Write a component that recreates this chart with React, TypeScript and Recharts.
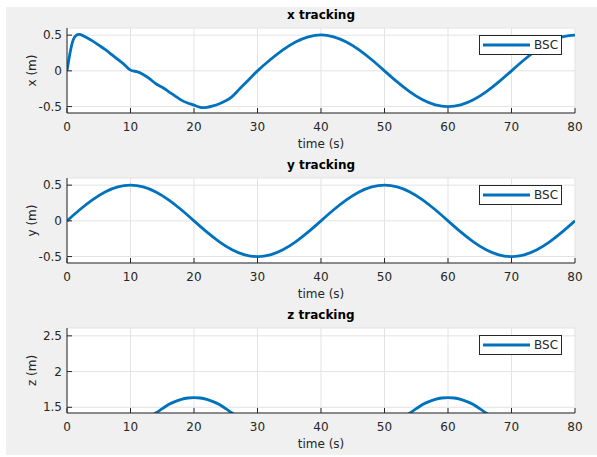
import React from "react";
import { LineChart, Line, XAxis, YAxis, CartesianGrid, Legend } from "recharts";

const FONT = "'DejaVu Sans', sans-serif";
const INK = "#262626";
const BLUE = "#0072BD";

const timeTicks = [0, 10, 20, 30, 40, 50, 60, 70, 80];
const posTicks = [-0.5, 0, 0.5];
const zTicks = [1.5, 2, 2.5];

// x tracking
const xTime = [
  0, 0.5, 1, 1.5, 2, 3, 4, 5, 6, 7, 8, 9, 10, 11, 12, 13, 14, 15, 16, 17, 18, 19, 20,
  21, 22, 23, 24, 25, 26, 27, 28, 29, 30, 32, 34, 36, 38, 40, 42, 44, 46, 48, 50, 52,
  54, 56, 58, 60, 62, 64, 66, 68, 70, 72, 74, 76, 78, 80,
];
const xPos = [
  0, 0.26, 0.44, 0.5, 0.51, 0.47, 0.42, 0.36, 0.3, 0.23, 0.16, 0.09, 0.01, -0.01,
  -0.05, -0.11, -0.18, -0.23, -0.29, -0.35, -0.41, -0.45, -0.48, -0.51, -0.51, -0.49,
  -0.46, -0.42, -0.36, -0.27, -0.18, -0.09, 0, 0.155, 0.294, 0.405, 0.476, 0.505, 0.476,
  0.405, 0.294, 0.155, 0, -0.155, -0.294, -0.405, -0.476, -0.5, -0.476, -0.405, -0.294,
  -0.155, 0, 0.155, 0.294, 0.405, 0.476, 0.5,
];

// y tracking
const yTime = [
  0, 2, 4, 6, 8, 10, 12, 14, 16, 18, 20, 22, 24, 26, 28, 30, 32, 34, 36, 38, 40, 42,
  44, 46, 48, 50, 52, 54, 56, 58, 60, 62, 64, 66, 68, 70, 72, 74, 76, 78, 80,
];
const yPos = [
  0, 0.155, 0.294, 0.405, 0.476, 0.5, 0.476, 0.405, 0.294, 0.155, 0, -0.155, -0.294,
  -0.405, -0.476, -0.5, -0.476, -0.405, -0.294, -0.155, 0, 0.155, 0.294, 0.405, 0.476,
  0.5, 0.476, 0.405, 0.294, 0.155, 0, -0.155, -0.294, -0.405, -0.476, -0.5, -0.476,
  -0.405, -0.294, -0.155, 0,
];

// z tracking (mostly below the visible range)
const zTime = [
  12, 13, 14, 15, 16, 17, 18, 19, 20, 21, 22, 23, 24, 25, 26, 27, 28, 40, 52, 53, 54,
  55, 56, 57, 58, 59, 60, 61, 62, 63, 64, 65, 66, 67, 68,
];
const zPos = [
  1.27, 1.35, 1.42, 1.48, 1.54, 1.58, 1.61, 1.63, 1.635, 1.63, 1.61, 1.58, 1.54, 1.48,
  1.42, 1.35, 1.27, null, 1.27, 1.35, 1.42, 1.48, 1.54, 1.58, 1.61, 1.63, 1.635, 1.63,
  1.61, 1.58, 1.54, 1.48, 1.42, 1.35, 1.27,
];

const zip = (t: number[], v: (number | null)[]) =>
  t.map((time, i) => ({ time, value: v[i] }));

const BottomTick = ({ x, y, payload }: any) => (
  <g>
    <line x1={x} x2={x} y1={y} y2={y - 5} stroke={INK} />
    <text x={x} y={y + 18} textAnchor="middle" fontSize={12} fontFamily={FONT} fill={INK}>
      {payload.value}
    </text>
  </g>
);

const TopTick = ({ x, y }: any) => (
  <line x1={x} x2={x} y1={y} y2={y + 5} stroke={INK} />
);

const LeftTick = ({ x, y, payload }: any) => (
  <g>
    <line x1={x} x2={x + 5} y1={y} y2={y} stroke={INK} />
    <text x={x - 5} y={y + 4} textAnchor="end" fontSize={12} fontFamily={FONT} fill={INK}>
      {payload.value}
    </text>
  </g>
);

const RightTick = ({ x, y }: any) => (
  <line x1={x} x2={x - 5} y1={y} y2={y} stroke={INK} />
);

const LegendBox = () => (
  <div
    style={{
      width: 83,
      height: 20,
      boxSizing: "border-box",
      border: `1px solid ${INK}`,
      background: "#fff",
      display: "flex",
      alignItems: "center",
      fontFamily: FONT,
      fontSize: 12,
      color: INK,
    }}
  >
    <svg width={52} height={6} style={{ display: "block" }}>
      <line x1={3} x2={50} y1={3} y2={3} stroke={BLUE} strokeWidth={2.8} />
    </svg>
    <span style={{ marginLeft: 2 }}>BSC</span>
  </div>
);

interface SubplotProps {
  top: number;
  title: string;
  ylabel: string;
  data: { time: number; value: number | null }[];
  domain: [number, number];
  yTicks: number[];
}

function Subplot({ top, title, ylabel, data, domain, yTicks }: SubplotProps) {
  return (
    <div style={{ position: "absolute", left: 0, top, width: 597, height: 150 }}>
      <div
        style={{
          position: "absolute",
          left: 67,
          top: 8,
          width: 508,
          textAlign: "center",
          fontFamily: FONT,
          fontSize: 12,
          lineHeight: "14px",
          fontWeight: "bold",
          color: "#000",
        }}
      >
        {title}
      </div>
      <LineChart
        width={597}
        height={150}
        data={data}
        margin={{ top: 28, right: 22, bottom: 0, left: 0 }}
      >
        <CartesianGrid stroke="#e3e3e3" fill="#fff" />
        <XAxis
          dataKey="time"
          type="number"
          domain={[0, 80]}
          ticks={timeTicks}
          interval={0}
          allowDataOverflow
          height={37}
          tickSize={0}
          tickMargin={0}
          tickLine={false}
          axisLine={{ stroke: INK }}
          tick={<BottomTick />}
          label={{
            content: ({ viewBox }: any) => (
              <text
                x={viewBox.x + viewBox.width / 2}
                y={viewBox.y + 35}
                textAnchor="middle"
                fontSize={12}
                fontFamily={FONT}
                fill={INK}
              >
                time (s)
              </text>
            ),
          }}
        />
        <XAxis
          xAxisId="top"
          orientation="top"
          type="number"
          domain={[0, 80]}
          ticks={timeTicks}
          interval={0}
          allowDataOverflow
          height={0}
          tickSize={0}
          tickMargin={0}
          tickLine={false}
          axisLine={{ stroke: INK }}
          tick={<TopTick />}
        />
        <YAxis
          type="number"
          domain={domain}
          ticks={yTicks}
          interval={0}
          allowDataOverflow
          width={67}
          tickSize={0}
          tickMargin={0}
          tickLine={false}
          axisLine={{ stroke: INK }}
          tick={<LeftTick />}
          label={{
            content: ({ viewBox }: any) => {
              const cx = viewBox.x + 32;
              const cy = viewBox.y + viewBox.height / 2;
              return (
                <text
                  x={cx}
                  y={cy}
                  transform={`rotate(-90 ${cx} ${cy})`}
                  textAnchor="middle"
                  dominantBaseline="central"
                  fontSize={12}
                  fontFamily={FONT}
                  fill={INK}
                >
                  {ylabel}
                </text>
              );
            },
          }}
        />
        <YAxis
          yAxisId="right"
          orientation="right"
          type="number"
          domain={domain}
          ticks={yTicks}
          interval={0}
          allowDataOverflow
          width={0}
          tickSize={0}
          tickMargin={0}
          tickLine={false}
          axisLine={{ stroke: INK }}
          tick={<RightTick />}
        />
        <Legend
          layout="horizontal"
          verticalAlign="middle"
          align="center"
          wrapperStyle={{ left: 479, top: 35, width: "auto", height: "auto" }}
          content={<LegendBox />}
        />
        <Line
          type="natural"
          dataKey="value"
          stroke={BLUE}
          strokeWidth={2.8}
          dot={false}
          name="BSC"
          isAnimationActive={false}
        />
      </LineChart>
    </div>
  );
}

export default function App() {
  return (
    <div
      style={{
        position: "absolute",
        left: 0,
        top: 0,
        width: 597,
        height: 457,
        background: "#fff",
        fontFamily: FONT,
      }}
    >
      <div
        style={{
          position: "absolute",
          left: 6,
          top: 7,
          width: 591,
          height: 448,
          background: "#f0f0f0",
        }}
      />
      <Subplot
        top={0}
        title="x tracking"
        ylabel="x (m)"
        data={zip(xTime, xPos)}
        domain={[-0.59, 0.6]}
        yTicks={posTicks}
      />
      <Subplot
        top={150}
        title="y tracking"
        ylabel="y (m)"
        data={zip(yTime, yPos)}
        domain={[-0.59, 0.6]}
        yTicks={posTicks}
      />
      <Subplot
        top={300}
        title="z tracking"
        ylabel="z (m)"
        data={zip(zTime, zPos)}
        domain={[1.42, 2.61]}
        yTicks={zTicks}
      />
    </div>
  );
}
